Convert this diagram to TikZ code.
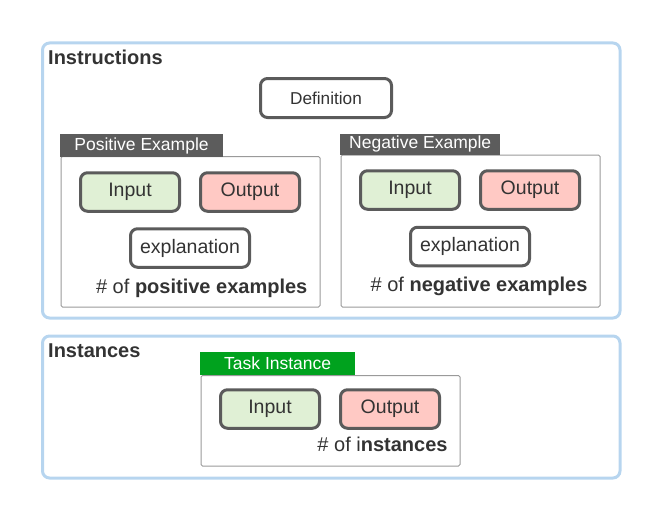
\documentclass[tikz,border=0pt]{standalone}
\usepackage{fontspec}
\setmainfont{Liberation Sans}
\definecolor{bluec}{HTML}{B7D5EF}
\definecolor{boxc}{HTML}{5B5B5B}
\definecolor{framec}{HTML}{9A9A9A}
\definecolor{hdrgray}{HTML}{5C5C5C}
\definecolor{hdrgreen}{HTML}{00A21E}
\definecolor{ingreen}{HTML}{E0F0D5}
\definecolor{outred}{HTML}{FFC9C4}
\definecolor{txtc}{HTML}{333333}
\tikzset{
  bluebox/.style={draw=bluec, line width=3pt, rounded corners=7pt, anchor=north west, inner sep=0pt},
  framebox/.style={draw=framec, line width=1pt, rounded corners=1.5pt, fill=white, anchor=north west, inner sep=0pt},
  hdr/.style={text=white, anchor=north west, inner sep=0pt, font=\fontsize{17.5}{20}\selectfont},
  ibox/.style={draw=boxc, line width=3pt, rounded corners=7pt, text=txtc, inner sep=0pt,
               minimum width=99pt, minimum height=38.5pt, font=\fontsize{19.5}{22}\selectfont},
  inbox/.style={ibox, fill=ingreen},
  outbox/.style={ibox, fill=outred},
  explbox/.style={ibox, fill=white, minimum width=119pt},
  caption/.style={text=txtc, anchor=base, inner sep=0pt, font=\fontsize{20}{23}\selectfont},
  title/.style={text=txtc, anchor=base west, inner sep=0pt, font=\fontsize{20}{23}\selectfont\bfseries}
}
\begin{document}
\begin{tikzpicture}[x=1pt,y=-1pt]
\useasboundingbox (0,0) rectangle (660,519);
% outer blue frames
\node[bluebox, minimum width=577.5pt, minimum height=275pt] (instr) at (41,41.5) {};
\node[bluebox, minimum width=577.5pt, minimum height=142pt] (inst) at (41,334.5) {};
\node[title] (instrt) at (48,64) {Instructions};
\node[title] (instt) at (48,357) {Instances};
% definition
\node[ibox, fill=white, minimum width=131pt, minimum height=39pt, font=\fontsize{17.2}{20}\selectfont] (def) at (326,98) {Definition};
% positive example
\node[framebox, minimum width=259pt, minimum height=150.5pt] (pf) at (60.5,156) {};
\node[hdr, fill=hdrgray, minimum width=162.7pt, minimum height=22.7pt] (ph) at (60,134) {Positive Example};
\node[inbox] (pin) at (130,192) {Input};
\node[outbox] (pout) at (250,192) {Output};
\node[explbox] (pexp) at (190,248) {explanation};
\node[caption] (pcap) at (201.7,293) {\# of \textbf{positive examples}};
% negative example
\node[framebox, minimum width=259pt, minimum height=152pt] (nf) at (340.5,154.5) {};
\node[hdr, fill=hdrgray, minimum width=160pt, minimum height=21pt] (nh) at (340,133.3) {Negative Example};
\node[inbox] (nin) at (410,190) {Input};
\node[outbox] (nout) at (530,190) {Output};
\node[explbox] (nexp) at (470,246.5) {explanation};
\node[caption] (ncap) at (479,291) {\# of \textbf{negative examples}};
% task instance
\node[framebox, minimum width=259pt, minimum height=90.5pt] (tf) at (200.5,375) {};
\node[hdr, fill=hdrgreen, minimum width=155pt, minimum height=23pt] (th) at (200,352) {Task Instance};
\node[inbox] (tin) at (270,409) {Input};
\node[outbox] (tout) at (390,409) {Output};
\node[caption] (tcap) at (382.5,451.7) {\# of i\textbf{nstances}};
\end{tikzpicture}
\end{document}
